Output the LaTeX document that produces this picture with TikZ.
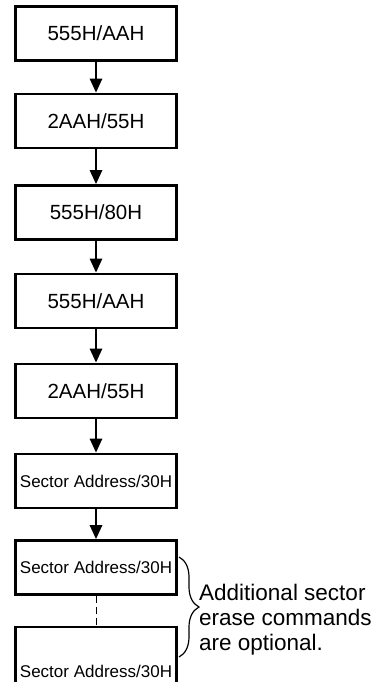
\documentclass[tikz,border=0pt]{standalone}
\usepackage{fontspec}
\setmainfont{Liberation Sans}
\usetikzlibrary{arrows.meta,decorations.pathreplacing}
\tikzset{
  cmdbox/.style={draw, line width=2.6pt, minimum width=161pt, minimum height=54pt, inner sep=0pt, font=\fontsize{20.5}{24}\selectfont},
  secbox/.style={cmdbox, font=\fontsize{17}{20}\selectfont},
  flow/.style={line width=2.6pt, -{Triangle[length=14pt,width=12pt]}},
  note/.style={anchor=base west, inner sep=0pt, font=\fontsize{22.5}{25}\selectfont}
}
\begin{document}
\begin{tikzpicture}[x=1pt,y=-1pt]
\useasboundingbox (0,0) rectangle (375,682);
\node[cmdbox] (b1) at (96,33.5) {555H/AAH};
\node[cmdbox] (b2) at (96,121) {2AAH/55H};
\node[cmdbox] (b3) at (96,212.5) {555H/80H};
\node[cmdbox] (b4) at (96,301) {555H/AAH};
\node[cmdbox] (b5) at (96,391) {2AAH/55H};
\node[secbox] (b6) at (96,481) {Sector Address/30H};
\node[secbox] (b7) at (96,567.5) {Sector Address/30H};
\node[cmdbox, minimum height=64pt] (b8) at (96,659) {};
\node[inner sep=0pt, font=\fontsize{17}{20}\selectfont] (t8) at (96,671) {Sector Address/30H};
\draw[flow] (b1) -- (b2);
\draw[flow] (b2) -- (b3);
\draw[flow] (b3) -- (b4);
\draw[flow] (b4) -- (b5);
\draw[flow] (b5) -- (b6);
\draw[flow] (b6) -- (b7);
\draw[line width=1pt, dash pattern=on 7pt off 4pt] (b7.south) -- (b8.north);
\coordinate (bt) at (179,557);
\coordinate (bb) at (179,657);
\draw[line width=1.2pt, decorate, decoration={brace, amplitude=20pt}] (bt) -- (bb);
\node[note] (n1) at (199,600) {Additional sector};
\node[note] (n2) at (199,625) {erase commands};
\node[note] (n3) at (199,650) {are optional.};
\end{tikzpicture}
\end{document}
